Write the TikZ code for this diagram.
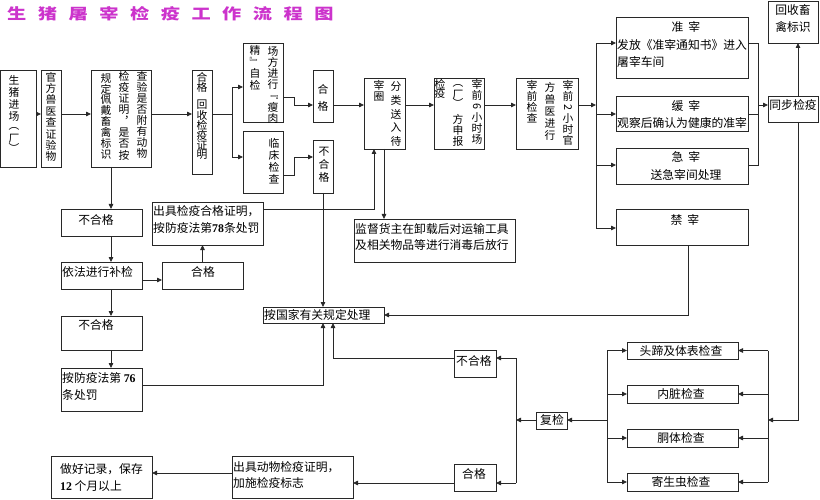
\documentclass[tikz,border=0pt]{standalone}
\usepackage{fontspec}
\setmainfont{Liberation Serif}
\newfontfamily\cjk{Noto Sans CJK SC}
\usetikzlibrary{arrows.meta}
\definecolor{titlec}{RGB}{204,51,204}
\definecolor{lnc}{RGB}{40,40,40}
\newcommand\bx[5]{\node[boxs, anchor=north west, minimum width={(#4-#2)*1pt}, minimum height={(#5-#3)*1pt}] (#1) at (#2,#3) {};}
\newcommand\vcol[5]{\foreach \c [count=\i] in {#5} {\node[vch] (#1-\i) at (#2,{#3+(\i-1)*#4}) {\c};}}
\begin{document}
\begin{tikzpicture}[x=1pt,y=-1pt,
  boxs/.style={draw=lnc, line width=0.8pt, inner sep=0pt, outer sep=0pt},
  vch/.style={inner sep=0pt, font=\cjk\fontsize{10.8}{12}\selectfont},
  tx/.style={inner sep=0pt, font=\cjk\fontsize{11.8}{14}\selectfont},
  wire/.style={draw=lnc, line width=0.8pt},
  arr/.style={wire, -{Triangle[length=5pt,width=4.5pt]}},
]
\fill[white] (0,0) rectangle (820,500);
\useasboundingbox (0,0) rectangle (820,500);

% title
\node[anchor=west, inner sep=0pt, text=titlec, font=\cjk\bfseries\fontsize{15}{18}\selectfont] (title) at (7,14)
  {\scalebox{1.28}[1]{生\hspace{9pt}猪\hspace{9pt}屠\hspace{9pt}宰\hspace{9pt}检\hspace{9pt}疫\hspace{9pt}工\hspace{9pt}作\hspace{9pt}流\hspace{9pt}程\hspace{9pt}图}};

% boxes
\bx{b1}{0}{70}{36}{167}
\bx{b2}{41}{70}{61}{167}
\bx{b3}{91}{70}{151}{167}
\bx{b4}{192}{70}{212}{174}
\bx{b5}{243}{43}{283}{122}
\bx{b6}{243}{131}{283}{193}
\bx{A}{313}{70}{333}{122}
\bx{B}{313}{140}{333}{193}
\bx{C}{364}{78}{405}{149}
\bx{D}{434}{78}{484}{149}
\bx{E}{516}{78}{578}{149}
\bx{zhun}{616}{17}{748}{78}
\bx{huan}{616}{96}{748}{131}
\bx{ji}{616}{148}{748}{184}
\bx{jin}{616}{209}{748}{245}
\bx{hs}{768}{1}{818}{43}
\bx{tb}{768}{96}{818}{122}
\bx{L1}{61}{209}{142}{236}
\bx{yf}{61}{262}{142}{289}
\bx{gL}{162}{262}{243}{289}
\bx{c78}{152}{202}{263}{245}
\bx{jd}{354}{219}{515}{262}
\bx{L2}{61}{316}{142}{350}
\bx{p76}{61}{368}{142}{411}
\bx{gj}{263}{307}{384}{323}
\bx{bB}{454}{350}{496}{377}
\bx{bA}{454}{464}{496}{491}
\bx{fj}{536}{412}{567}{429}
\bx{i1}{627}{342}{738}{359}
\bx{i2}{627}{385}{738}{403}
\bx{i3}{627}{429}{738}{447}
\bx{i4}{627}{473}{738}{491}
\bx{cert}{232}{456}{353}{498}
\bx{rec}{51}{456}{152}{498}

% vertical texts
\vcol{t1a}{14}{80}{12}{生,猪,进,场}
\vcol{t1b}{14}{129}{9.5}{︵,厂,︶}
\vcol{t2}{51}{77}{11.4}{官,方,兽,医,查,证,验,物}
\vcol{t3a}{142}{76}{11.1}{查,验,是,否,附,有,动,物}
\vcol{t3b}{124}{76}{11.3}{检,疫,证,明,︐,是,否,按}
\vcol{t3c}{106}{78}{10.9}{规,定,佩,戴,畜,禽,标,识}
\vcol{t4a}{202}{77}{10.5}{合,格}
\vcol{t4b}{202}{105}{10}{回,收,检,疫,证,明}
\vcol{t5a}{273}{51}{11}{场,方,进,行}
\vcol{t5c}{273}{97.5}{1}{﹃}
\vcol{t5d}{273}{107}{11}{瘦,肉}
\vcol{t5b}{255}{50}{11.7}{精,﹄,自,检}
\vcol{t6}{274}{143}{12}{临,床,检,查}
\vcol{tA}{323}{89}{17}{合,格}
\vcol{tB}{324}{152}{12.5}{不,合,格}
\vcol{tCa}{379}{85}{11.5}{宰,圈}
\vcol{tCb}{396}{87}{13.5}{分,类,送,入,待}
\vcol{tDa}{440}{84}{9.5}{检,疫}
\vcol{tDb}{458}{86}{8.5}{︵,厂,︶}
\vcol{tDc}{458}{119}{11}{方,申,报}
\vcol{tDd}{477}{84}{11}{宰,前,{\rotatebox{-90}{6}},小,时,场}
\vcol{tEa}{532}{85}{11}{宰,前,检,查}
\vcol{tEb}{550}{87}{12}{方,兽,医,进,行}
\vcol{tEc}{568}{85}{11}{宰,前,{\rotatebox{-90}{2}},小,时,官}

% horizontal texts
\node[tx] (zh1) at (686,27) {准\hspace{5pt}宰};
\node[tx, anchor=west] (zh2) at (617,45) {发放《准宰通知书》进入};
\node[tx, anchor=west] (zh3) at (617,62) {屠宰车间};
\node[tx] (hu1) at (686,106) {缓\hspace{5pt}宰};
\node[tx, anchor=west] (hu2) at (617,123) {观察后确认为健康的准宰};
\node[tx] (ji1) at (686,157) {急\hspace{5pt}宰};
\node[tx] (ji2) at (686,175) {送急宰间处理};
\node[tx] (jn1) at (685,220) {禁\hspace{5pt}宰};
\node[tx] (hs1) at (793,10) {回收畜};
\node[tx] (hs2) at (793,27) {禽标识};
\node[tx] (tb1) at (793,105) {同步检疫};
\node[tx] (i1t) at (681,351) {头蹄及体表检查};
\node[tx] (i2t) at (681,394) {内脏检查};
\node[tx] (i3t) at (681,438) {胴体检查};
\node[tx] (i4t) at (681,482) {寄生虫检查};
\node[tx] (fjt) at (552,420) {复检};
\node[tx, anchor=west] (bBt) at (456,361) {不合格};
\node[tx] (bAt) at (474,474) {合格};
\node[tx, anchor=west] (ce1) at (233,467) {出具动物检疫证明，};
\node[tx, anchor=west] (ce2) at (233,483) {加施检疫标志};
\node[tx, anchor=west] (re1) at (60,469) {做好记录，保存};
\node[tx, anchor=west] (re2) at (60,486) {{\rmfamily\bfseries 12} 个月以上};
\node[tx, anchor=west] (p1) at (62,378) {按防疫法第~{\rmfamily\bfseries 76}};
\node[tx, anchor=west] (p2) at (62,395) {条处罚};
\node[tx] (L2t) at (96,325) {不合格};
\node[tx, anchor=west] (yft) at (62,272) {依法进行补检};
\node[tx] (L1t) at (96,220) {不合格};
\node[tx] (gLt) at (203,272) {合格};
\node[tx, anchor=west] (c1) at (153,211) {出具检疫合格证明，};
\node[tx, anchor=west] (c2) at (153,228) {按防疫法第{\rmfamily\bfseries 78}条处罚};
\node[tx, anchor=west] (jd1) at (355,229) {监督货主在卸载后对运输工具};
\node[tx, anchor=west] (jd2) at (355,245) {及相关物品等进行消毒后放行};
\node[tx, anchor=west] (gjt) at (264,315) {按国家有关规定处理};

% connectors
\draw[arr] (b1.east|-0,114) -- (b2.west|-0,114);
\draw[arr] (b2.east|-0,114) -- (b3.west|-0,114);
\draw[arr] (b3.east|-0,114) -- (b4.west|-0,114);
\coordinate (s1) at (232,114);
\draw[wire] (b4.east|-s1) -- (s1);
\draw[arr] (s1) |- (b5.west|-0,87);
\draw[arr] (s1) |- (b6.west|-0,157);
\draw[arr] (b5.east|-0,97) -- (294,97) -- (294,105) -- (A.west|-0,105);
\draw[arr] (b6.east|-0,175) -- (294,175) -- (294,157) -- (B.west|-0,157);
\draw[arr] (A.east|-0,105) -- (C.west|-0,105);
\draw[arr] (C.east|-0,105) -- (D.west|-0,105);
\draw[arr] (D.east|-0,105) -- (E.west|-0,105);
\coordinate (s2) at (596,105);
\draw[arr] (E.east|-s2) -- (s2);
\draw[arr] (s2) |- (zhun.west|-0,43);
\draw[arr] (s2) |- (huan.west|-0,114);
\draw[arr] (s2) |- (ji.west|-0,165);
\draw[arr] (s2) |- (jin.west|-0,228);
\coordinate (s3) at (758,105);
\draw[wire] (zhun.east|-0,43) -- (758,43) -- (758,165) -- (ji.east|-0,165);
\draw[wire] (huan.east|-0,114) -- (758,114);
\draw[arr] (s3) -- (tb.west|-s3);
\draw[arr] ([xshift=5pt]tb.north) -- ([xshift=5pt]hs.south);
\coordinate (s4) at (768,420);
\draw[arr] ([xshift=5pt]tb.south) |- (s4);
\draw[wire] (s4|-i1.east) -- (s4|-i4.east);
\foreach \n in {i1,i2,i3,i4} {\draw[arr] (s4|-\n.east) -- (\n.east);}
\coordinate (s5) at (607,420);
\draw[wire] (s5|-i1.west) -- (s5|-i4.west);
\foreach \n in {i1,i2,i3,i4} {\draw[arr] (s5|-\n.west) -- (\n.west);}
\draw[arr] (s5) -- (fj.east|-s5);
\coordinate (s6) at (516,420);
\draw[arr] (fj.west|-s6) -- (s6);
\draw[wire] (s6|-0,358) -- (s6|-0,483);
\draw[arr] (s6|-0,358) -- (bB.east|-0,358);
\draw[arr] (s6|-0,483) -- (bA.east|-0,483);
\draw[arr] (bB.west|-0,358) -| (gj.south-|333,0);
\draw[arr] (bA.west|-0,483) -- (cert.east|-0,483);
\draw[arr] (cert.west|-0,473) -- (rec.east|-0,473);
\draw[arr] (b3.south-|111,0) -- (L1.north-|111,0);
\draw[arr] (L1.south-|111,0) -- (yf.north-|111,0);
\draw[arr] (yf.south-|111,0) -- (L2.north-|111,0);
\draw[arr] (L2.south-|111,0) -- (p76.north-|111,0);
\draw[arr] (yf.east|-0,280) -- (gL.west|-0,280);
\draw[arr] (gL.north) -- (c78.south-|gL.north);
\draw[arr] (c78.east|-0,209) -| (C.south-|374,0);
\draw[arr] (C.south-|384,0) -- (jd.north-|384,0);
\draw[arr] (B.south) -- (gj.north-|B.south);
\draw[arr] (p76.east|-0,385) -| (gj.south-|323,0);
\draw[arr] (jin.south-|688,0) |- (gj.east);
\end{tikzpicture}
\end{document}
